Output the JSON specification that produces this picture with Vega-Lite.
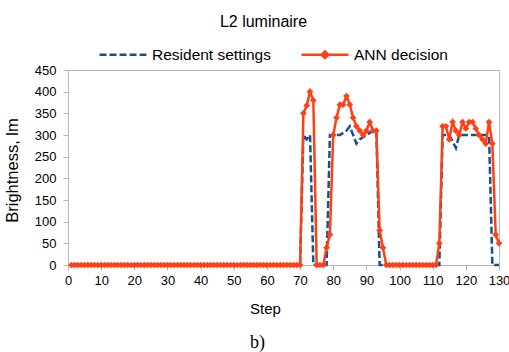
{
  "$schema": "https://vega.github.io/schema/vega-lite/v6.json",
  "width": 431,
  "height": 195,
  "autosize": "none",
  "padding": {"left": 68, "top": 70, "right": 10, "bottom": 87},
  "background": "white",
  "config": {
    "view": {"stroke": "#b8b8b8", "strokeWidth": 1},
    "font": "Liberation Sans"
  },
  "title": {
    "text": "L2 luminaire",
    "anchor": "middle",
    "frame": "group",
    "font": "Liberation Sans",
    "fontSize": 16,
    "fontWeight": "normal",
    "color": "#000000",
    "dx": -20,
    "dy": 17,
    "baseline": "alphabetic",
    "offset": 3.5
  },
  "data": {
    "values": [
      {"step": 1, "Resident settings": 0, "ANN decision": 0},
      {"step": 2, "Resident settings": 0, "ANN decision": 0},
      {"step": 3, "Resident settings": 0, "ANN decision": 0},
      {"step": 4, "Resident settings": 0, "ANN decision": 0},
      {"step": 5, "Resident settings": 0, "ANN decision": 0},
      {"step": 6, "Resident settings": 0, "ANN decision": 0},
      {"step": 7, "Resident settings": 0, "ANN decision": 0},
      {"step": 8, "Resident settings": 0, "ANN decision": 0},
      {"step": 9, "Resident settings": 0, "ANN decision": 0},
      {"step": 10, "Resident settings": 0, "ANN decision": 0},
      {"step": 11, "Resident settings": 0, "ANN decision": 0},
      {"step": 12, "Resident settings": 0, "ANN decision": 0},
      {"step": 13, "Resident settings": 0, "ANN decision": 0},
      {"step": 14, "Resident settings": 0, "ANN decision": 0},
      {"step": 15, "Resident settings": 0, "ANN decision": 0},
      {"step": 16, "Resident settings": 0, "ANN decision": 0},
      {"step": 17, "Resident settings": 0, "ANN decision": 0},
      {"step": 18, "Resident settings": 0, "ANN decision": 0},
      {"step": 19, "Resident settings": 0, "ANN decision": 0},
      {"step": 20, "Resident settings": 0, "ANN decision": 0},
      {"step": 21, "Resident settings": 0, "ANN decision": 0},
      {"step": 22, "Resident settings": 0, "ANN decision": 0},
      {"step": 23, "Resident settings": 0, "ANN decision": 0},
      {"step": 24, "Resident settings": 0, "ANN decision": 0},
      {"step": 25, "Resident settings": 0, "ANN decision": 0},
      {"step": 26, "Resident settings": 0, "ANN decision": 0},
      {"step": 27, "Resident settings": 0, "ANN decision": 0},
      {"step": 28, "Resident settings": 0, "ANN decision": 0},
      {"step": 29, "Resident settings": 0, "ANN decision": 0},
      {"step": 30, "Resident settings": 0, "ANN decision": 0},
      {"step": 31, "Resident settings": 0, "ANN decision": 0},
      {"step": 32, "Resident settings": 0, "ANN decision": 0},
      {"step": 33, "Resident settings": 0, "ANN decision": 0},
      {"step": 34, "Resident settings": 0, "ANN decision": 0},
      {"step": 35, "Resident settings": 0, "ANN decision": 0},
      {"step": 36, "Resident settings": 0, "ANN decision": 0},
      {"step": 37, "Resident settings": 0, "ANN decision": 0},
      {"step": 38, "Resident settings": 0, "ANN decision": 0},
      {"step": 39, "Resident settings": 0, "ANN decision": 0},
      {"step": 40, "Resident settings": 0, "ANN decision": 0},
      {"step": 41, "Resident settings": 0, "ANN decision": 0},
      {"step": 42, "Resident settings": 0, "ANN decision": 0},
      {"step": 43, "Resident settings": 0, "ANN decision": 0},
      {"step": 44, "Resident settings": 0, "ANN decision": 0},
      {"step": 45, "Resident settings": 0, "ANN decision": 0},
      {"step": 46, "Resident settings": 0, "ANN decision": 0},
      {"step": 47, "Resident settings": 0, "ANN decision": 0},
      {"step": 48, "Resident settings": 0, "ANN decision": 0},
      {"step": 49, "Resident settings": 0, "ANN decision": 0},
      {"step": 50, "Resident settings": 0, "ANN decision": 0},
      {"step": 51, "Resident settings": 0, "ANN decision": 0},
      {"step": 52, "Resident settings": 0, "ANN decision": 0},
      {"step": 53, "Resident settings": 0, "ANN decision": 0},
      {"step": 54, "Resident settings": 0, "ANN decision": 0},
      {"step": 55, "Resident settings": 0, "ANN decision": 0},
      {"step": 56, "Resident settings": 0, "ANN decision": 0},
      {"step": 57, "Resident settings": 0, "ANN decision": 0},
      {"step": 58, "Resident settings": 0, "ANN decision": 0},
      {"step": 59, "Resident settings": 0, "ANN decision": 0},
      {"step": 60, "Resident settings": 0, "ANN decision": 0},
      {"step": 61, "Resident settings": 0, "ANN decision": 0},
      {"step": 62, "Resident settings": 0, "ANN decision": 0},
      {"step": 63, "Resident settings": 0, "ANN decision": 0},
      {"step": 64, "Resident settings": 0, "ANN decision": 0},
      {"step": 65, "Resident settings": 0, "ANN decision": 0},
      {"step": 66, "Resident settings": 0, "ANN decision": 0},
      {"step": 67, "Resident settings": 0, "ANN decision": 0},
      {"step": 68, "Resident settings": 0, "ANN decision": 0},
      {"step": 69, "Resident settings": 0, "ANN decision": 0},
      {"step": 70, "Resident settings": 0, "ANN decision": 0},
      {"step": 71, "Resident settings": 300, "ANN decision": 350},
      {"step": 72, "Resident settings": 290, "ANN decision": 368},
      {"step": 73, "Resident settings": 300, "ANN decision": 400},
      {"step": 74, "Resident settings": 0, "ANN decision": 380},
      {"step": 75, "Resident settings": 0, "ANN decision": 0},
      {"step": 76, "Resident settings": 0, "ANN decision": 0},
      {"step": 77, "Resident settings": 0, "ANN decision": 0},
      {"step": 78, "Resident settings": 0, "ANN decision": 40},
      {"step": 79, "Resident settings": 300, "ANN decision": 70},
      {"step": 80, "Resident settings": 300, "ANN decision": 300},
      {"step": 81, "Resident settings": 300, "ANN decision": 340},
      {"step": 82, "Resident settings": 300, "ANN decision": 370},
      {"step": 83, "Resident settings": 305, "ANN decision": 370},
      {"step": 84, "Resident settings": 310, "ANN decision": 390},
      {"step": 85, "Resident settings": 320, "ANN decision": 370},
      {"step": 86, "Resident settings": 300, "ANN decision": 340},
      {"step": 87, "Resident settings": 280, "ANN decision": 320},
      {"step": 88, "Resident settings": 290, "ANN decision": 310},
      {"step": 89, "Resident settings": 295, "ANN decision": 300},
      {"step": 90, "Resident settings": 300, "ANN decision": 310},
      {"step": 91, "Resident settings": 305, "ANN decision": 330},
      {"step": 92, "Resident settings": 310, "ANN decision": 310},
      {"step": 93, "Resident settings": 310, "ANN decision": 310},
      {"step": 94, "Resident settings": 0, "ANN decision": 80},
      {"step": 95, "Resident settings": 0, "ANN decision": 40},
      {"step": 96, "Resident settings": 0, "ANN decision": 0},
      {"step": 97, "Resident settings": 0, "ANN decision": 0},
      {"step": 98, "Resident settings": 0, "ANN decision": 0},
      {"step": 99, "Resident settings": 0, "ANN decision": 0},
      {"step": 100, "Resident settings": 0, "ANN decision": 0},
      {"step": 101, "Resident settings": 0, "ANN decision": 0},
      {"step": 102, "Resident settings": 0, "ANN decision": 0},
      {"step": 103, "Resident settings": 0, "ANN decision": 0},
      {"step": 104, "Resident settings": 0, "ANN decision": 0},
      {"step": 105, "Resident settings": 0, "ANN decision": 0},
      {"step": 106, "Resident settings": 0, "ANN decision": 0},
      {"step": 107, "Resident settings": 0, "ANN decision": 0},
      {"step": 108, "Resident settings": 0, "ANN decision": 0},
      {"step": 109, "Resident settings": 0, "ANN decision": 0},
      {"step": 110, "Resident settings": 0, "ANN decision": 0},
      {"step": 111, "Resident settings": 0, "ANN decision": 0},
      {"step": 112, "Resident settings": 0, "ANN decision": 50},
      {"step": 113, "Resident settings": 300, "ANN decision": 320},
      {"step": 114, "Resident settings": 300, "ANN decision": 320},
      {"step": 115, "Resident settings": 300, "ANN decision": 290},
      {"step": 116, "Resident settings": 285, "ANN decision": 330},
      {"step": 117, "Resident settings": 270, "ANN decision": 310},
      {"step": 118, "Resident settings": 300, "ANN decision": 300},
      {"step": 119, "Resident settings": 300, "ANN decision": 330},
      {"step": 120, "Resident settings": 300, "ANN decision": 315},
      {"step": 121, "Resident settings": 300, "ANN decision": 330},
      {"step": 122, "Resident settings": 300, "ANN decision": 330},
      {"step": 123, "Resident settings": 300, "ANN decision": 315},
      {"step": 124, "Resident settings": 300, "ANN decision": 300},
      {"step": 125, "Resident settings": 300, "ANN decision": 290},
      {"step": 126, "Resident settings": 300, "ANN decision": 280},
      {"step": 127, "Resident settings": 300, "ANN decision": 330},
      {"step": 128, "Resident settings": 0, "ANN decision": 280},
      {"step": 129, "Resident settings": 0, "ANN decision": 70},
      {"step": 130, "Resident settings": 0, "ANN decision": 50}
    ]
  },
  "transform": [
    {"fold": ["Resident settings", "ANN decision"], "as": ["series", "value"]}
  ],
  "encoding": {
    "y": {
      "field": "value",
      "type": "quantitative",
      "scale": {"domain": [0, 450], "nice": false},
      "axis": {
        "values": [0, 50, 100, 150, 200, 250, 300, 350, 400, 450],
        "title": "Brightness, lm",
        "grid": false,
        "domainColor": "#b8b8b8",
        "tickColor": "#b8b8b8",
        "tickSize": 5,
        "labelPadding": 7,
        "labelFont": "Liberation Sans",
        "labelFontSize": 13,
        "labelColor": "#000000",
        "labelFlush": false,
        "titleFont": "Liberation Sans",
        "titleFontSize": 16.5,
        "titleFontWeight": "normal",
        "titleColor": "#000000",
        "titleX": -56,
        "titleY": 100,
        "titleAngle": 270,
        "titleAlign": "center",
        "titleBaseline": "middle"
      }
    },
    "color": {
      "field": "series",
      "type": "nominal",
      "scale": {"domain": ["Resident settings", "ANN decision"], "range": ["#17508F", "#FF3F14"]},
      "legend": {
        "title": null,
        "orient": "none",
        "direction": "horizontal",
        "legendX": 30,
        "legendY": -40.5,
        "symbolSize": 2200,
        "symbolStrokeWidth": 2.5,
        "labelFont": "Liberation Sans",
        "labelFontSize": 15.5,
        "labelColor": "#000000",
        "labelOffset": 4,
        "columnPadding": 25,
        "padding": 0,
        "encode": {
          "symbols": {
            "update": {
              "shape": {"signal": "datum.value === 'ANN decision' ? 'M-1,0H1M-0.14,0L0,-0.14L0.14,0L0,0.14Z' : 'stroke'"},
              "fill": {"signal": "datum.value === 'ANN decision' ? '#FF3F14' : 'transparent'"}
            }
          }
        }
      }
    },
    "strokeDash": {
      "field": "series",
      "type": "nominal",
      "scale": {"domain": ["Resident settings", "ANN decision"], "range": [[7, 3], [1, 0]]},
      "legend": {
        "title": null,
        "orient": "none",
        "direction": "horizontal",
        "legendX": 30,
        "legendY": -40.5,
        "symbolSize": 2200,
        "symbolStrokeWidth": 2.5,
        "labelFont": "Liberation Sans",
        "labelFontSize": 15.5,
        "labelColor": "#000000",
        "labelOffset": 4,
        "columnPadding": 25,
        "padding": 0,
        "encode": {
          "symbols": {
            "update": {
              "shape": {"signal": "datum.value === 'ANN decision' ? 'M-1,0H1M-0.14,0L0,-0.14L0.14,0L0,0.14Z' : 'stroke'"},
              "fill": {"signal": "datum.value === 'ANN decision' ? '#FF3F14' : 'transparent'"}
            }
          }
        }
      }
    }
  },
  "layer": [
    {
      "transform": [{"filter": "datum.series === 'Resident settings'"}],
      "mark": {"type": "line", "strokeWidth": 2.5},
      "encoding": {
        "x": {
          "field": "step",
          "type": "quantitative",
          "scale": {"domain": [0, 130], "nice": false},
          "axis": {
            "values": [0, 10, 20, 30, 40, 50, 60, 70, 80, 90, 100, 110, 120, 130],
            "title": "Step",
            "grid": false,
            "domainColor": "#b8b8b8",
            "tickColor": "#b8b8b8",
            "tickSize": 5,
            "labelPadding": 4,
            "labelFont": "Liberation Sans",
            "labelFontSize": 13,
            "labelColor": "#000000",
            "labelFlush": false,
            "labelOverlap": false,
            "titleFont": "Liberation Sans",
            "titleFontSize": 15,
            "titleFontWeight": "normal",
            "titleColor": "#000000",
            "titleX": 197,
            "titleY": 48,
            "titleAlign": "center",
            "titleBaseline": "alphabetic"
          }
        }
      }
    },
    {
      "transform": [{"filter": "datum.series === 'ANN decision'"}],
      "mark": {
        "type": "line",
        "strokeWidth": 2.5,
        "point": {"shape": "diamond", "size": 45, "filled": true, "color": "#FF3F14"}
      },
      "encoding": {
        "x": {
          "field": "step",
          "type": "quantitative",
          "scale": {"domain": [0, 130], "nice": false},
          "axis": {
            "orient": "bottom",
            "title": "b)",
            "labels": false,
            "ticks": false,
            "domain": false,
            "grid": false,
            "titleFont": "Liberation Serif",
            "titleFontSize": 18,
            "titleFontWeight": "normal",
            "titleColor": "#000000",
            "titleX": 189,
            "titleY": 82,
            "titleAlign": "center",
            "titleBaseline": "alphabetic"
          }
        }
      }
    }
  ],
  "resolve": {"scale": {"x": "independent"}}
}
